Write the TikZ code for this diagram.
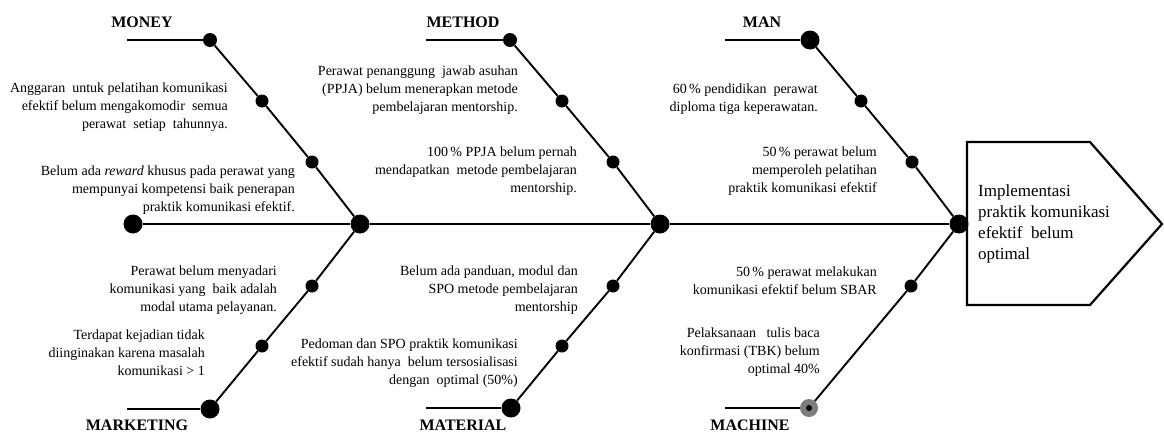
\documentclass[tikz,border=0pt]{standalone}
\usepackage{fontspec}
\setmainfont{Liberation Serif}
\definecolor{dotgray}{RGB}{125,125,125}
\begin{document}
\begin{tikzpicture}[x=1pt,y=-1pt,
  bone/.style={line width=1.9pt},
  spine/.style={line width=2.4pt},
  bigdot/.style={circle,fill=black,inner sep=0pt,minimum size=19pt},
  topdot/.style={circle,fill=black,inner sep=0pt,minimum size=14pt},
  smalldot/.style={circle,fill=black,inner sep=0pt,minimum size=13pt},
  cat/.style={font=\fontsize{16}{18}\selectfont\bfseries,inner sep=0pt},
  cause/.style={font=\fontsize{14}{18}\selectfont,align=right,anchor=east,inner sep=0pt},
  headtext/.style={font=\fontsize{17}{21}\selectfont,align=left,anchor=west,inner sep=0pt},
  ]
\useasboundingbox (0,0) rectangle (1164,434);

% spine dots
\node[bigdot] (L) at (133,224) {};
\node[bigdot] (J1) at (360,224) {};
\node[bigdot] (J2) at (660,224) {};
\node[bigdot] (J3) at (959,224) {};
\draw[spine] (L) -- (J1) -- (J2) -- (J3);

% MONEY bone
\coordinate (s1) at (127,40);
\node[topdot] (t1) at (210,40) {};
\node[smalldot] (a1) at (262,101) {};
\node[smalldot] (a2) at (312,162) {};
\draw[bone] (s1) -- (t1);
\draw[bone] (t1) -- (a1) -- (a2) -- (J1);

% MARKETING bone
\coordinate (s2) at (127,409);
\node[bigdot] (b1) at (210,409) {};
\node[smalldot] (c1) at (312,286) {};
\node[smalldot] (c2) at (262,346) {};
\draw[bone] (s2) -- (b1);
\draw[bone] (J1) -- (c1) -- (c2) -- (b1);

% METHOD bone
\coordinate (s3) at (426,40);
\node[topdot] (t2) at (510,40) {};
\node[smalldot] (a3) at (562,101) {};
\node[smalldot] (a4) at (613,162) {};
\draw[bone] (s3) -- (t2);
\draw[bone] (t2) -- (a3) -- (a4) -- (J2);

% MATERIAL bone
\coordinate (s4) at (426,408);
\node[bigdot] (b2) at (511,408) {};
\node[smalldot] (c3) at (613,286) {};
\node[smalldot] (c4) at (562,346) {};
\draw[bone] (s4) -- (b2);
\draw[bone] (J2) -- (c3) -- (c4) -- (b2);

% MAN bone
\coordinate (s5) at (725,40);
\node[bigdot] (t3) at (810,40) {};
\node[smalldot] (a5) at (861,101) {};
\node[smalldot] (a6) at (912,162) {};
\draw[bone] (s5) -- (t3);
\draw[bone] (t3) -- (a5) -- (a6) -- (J3);

% MACHINE bone
\coordinate (s6) at (725,408);
\node[circle,fill=dotgray,inner sep=0pt,minimum size=18pt] (b3) at (809,408) {};
\node[circle,fill=black,inner sep=0pt,minimum size=6pt] (b3c) at (b3.center) {};
\node[smalldot] (c5) at (911,286) {};
\draw[bone] (s6) -- (b3);
\draw[bone] (J3) -- (c5) -- (b3);

% category labels
\node[cat] (money) at (142,22) {MONEY};
\node[cat] (method) at (463,22) {METHOD};
\node[cat] (man) at (762,22) {MAN};
\node[cat] (marketing) at (137,425.5) {MARKETING};
\node[cat] (material) at (463,425.5) {MATERIAL};
\node[cat] (machine) at (750,425.5) {MACHINE};

% causes
\node[cause] (m1) at (228,107) {Anggaran\ \ untuk pelatihan komunikasi\\efektif belum mengakomodir\ \ semua\\perawat\ \ setiap\ \ tahunnya.};
\node[cause] (m2) at (295,190) {Belum ada \textit{reward} khusus pada perawat yang\\mempunyai kompetensi baik penerapan\\praktik komunikasi efektif.};
\node[cause] (k1) at (277,290) {Perawat belum menyadari\\komunikasi yang\ \ baik adalah\\modal utama pelayanan.};
\node[cause] (k2) at (205,353) {Terdapat kejadian tidak\\diinginakan karena masalah\\komunikasi > 1};
\node[cause] (e1) at (518,90) {Perawat penanggung\ \ jawab asuhan\\(PPJA) belum menerapkan metode\\pembelajaran mentorship.};
\node[cause] (e2) at (577,171) {100\,\% PPJA belum pernah\\mendapatkan\ \ metode pembelajaran\\mentorship.};
\node[cause] (r1) at (578,290) {Belum ada panduan, modul dan\\SPO metode pembelajaran\\mentorship};
\node[cause] (r2) at (518,363) {Pedoman dan SPO praktik komunikasi\\efektif sudah hanya\ \ belum tersosialisasi\\dengan\ \ optimal (50\%)};
\node[cause] (n1) at (818,99) {60\,\% pendidikan\ \ perawat\\diploma tiga keperawatan.};
\node[cause] (n2) at (877,171) {50\,\% perawat belum\\memperoleh pelatihan\\praktik komunikasi efektif};
\node[cause] (h1) at (877,281) {50\,\% perawat melakukan\\komunikasi efektif belum SBAR};
\node[cause] (h2) at (820,352) {Pelaksanaan\ \ \ tulis baca\\konfirmasi (TBK) belum\\optimal 40\%};

% head
\node[headtext] (head) at (978,224) {Implementasi\\praktik komunikasi\\efektif\ \ belum\\optimal};
\coordinate (p1) at (967,142);
\coordinate (p2) at (1090,142);
\coordinate (p3) at (1162,224);
\coordinate (p4) at (1090,305);
\coordinate (p5) at (967,305);
\draw[line width=2.2pt,line join=miter] (p1) -- (p2) -- (p3) -- (p4) -- (p5) -- cycle;
\end{tikzpicture}
\end{document}
